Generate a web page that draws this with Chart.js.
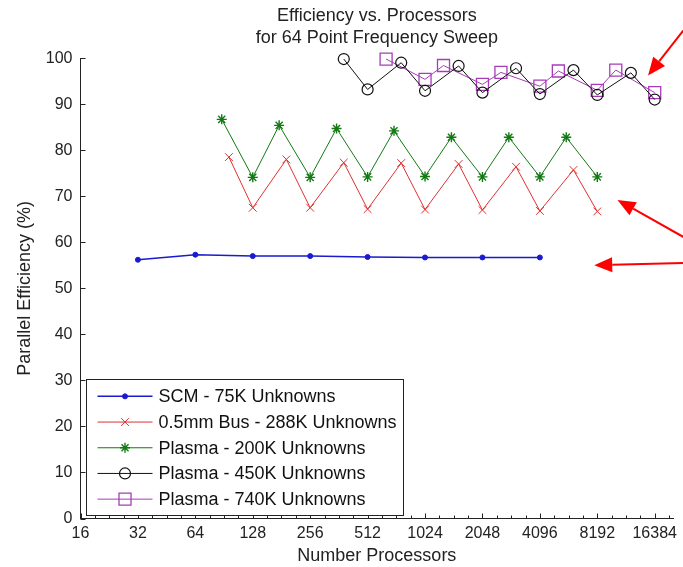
<!DOCTYPE html>
<html>
<head>
<meta charset="utf-8">
<script src="https://cdn.jsdelivr.net/npm/chart.js@4.4.0/dist/chart.umd.min.js"></script>
<style>
body { margin: 0; background: #fff; }
#wrap { width: 683px; height: 567px; }
</style>
</head>
<body>
<div id="wrap"><canvas id="myChart" width="683" height="567"></canvas></div>
<script>
// Processor counts (x) and parallel efficiency in % (y)
const scmX = [32, 64, 128, 256, 512, 1024, 2048, 4096];
const scmY = [56.2, 57.3, 57.0, 57.0, 56.8, 56.7, 56.7, 56.7];

const busX = [96, 128, 192, 256, 384, 512, 768, 1024, 1536, 2048, 3072, 4096, 6144, 8192];
const busY = [78.5, 67.5, 78.0, 67.5, 77.3, 67.2, 77.2, 67.1, 77.0, 67.0, 76.4, 66.8, 75.7, 66.7];

const plasma200X = [88, 128, 176, 256, 352, 512, 704, 1024, 1408, 2048, 2816, 4096, 5632, 8192];
const plasma200Y = [86.7, 74.1, 85.4, 74.1, 84.7, 74.2, 84.2, 74.3, 82.8, 74.2, 82.8, 74.2, 82.8, 74.2];

const plasma450X = [384, 512, 768, 1024, 1536, 2048, 3072, 4096, 6144, 8192, 12288, 16384];
const plasma450Y = [99.8, 93.2, 99.0, 92.9, 98.3, 92.5, 97.8, 92.2, 97.4, 92.0, 96.8, 91.0];

const plasma740X = [640, 1024, 1280, 2048, 2560, 4096, 5120, 8192, 10240, 16384];
const plasma740Y = [99.8, 95.4, 98.4, 94.3, 96.9, 93.9, 97.2, 93.0, 97.4, 92.5];

// axis tick labels
const xTicks = [16, 32, 64, 128, 256, 512, 1024, 2048, 4096, 8192, 16384];
const yTicks = [0, 10, 20, 30, 40, 50, 60, 70, 80, 90, 100];

// red annotation arrows, tail -> tip, in data units
const arrowFrom = [[24450, 107.3], [24450, 60.6], [24450, 55.5]];
const arrowTo = [[15120, 96.2], [10450, 69.2], [7893, 55.0]];

const FONT = 'Arial, "Liberation Sans", Helvetica, sans-serif';
Chart.defaults.font.family = FONT;

function toPts(xs, ys) {
    return xs.map((x, i) => ({ x: x, y: ys[i] }));
}

// ticks drawn on the inside of the axes, like matlab does
const innerTicks = {
    id: 'innerTicks',
    afterDraw(chart) {
        const { ctx, chartArea, scales: { x, y } } = chart;
        ctx.save();
        ctx.strokeStyle = '#222';
        ctx.lineWidth = 1;
        ctx.beginPath();
        yTicks.forEach(v => {
            const py = Math.round(y.getPixelForValue(v)) + 0.5;
            ctx.moveTo(chartArea.left, py);
            ctx.lineTo(chartArea.left + 5, py);
        });
        xTicks.forEach(v => {
            const px = Math.round(x.getPixelForValue(v)) + 0.5;
            ctx.moveTo(px, chartArea.bottom);
            ctx.lineTo(px, chartArea.bottom - 5);
            // minor ticks at quarter octaves
            [1.189, 1.414, 1.682].forEach(f => {
                const mx = Math.round(x.getPixelForValue(v * f)) + 0.5;
                if (mx < chartArea.right) {
                    ctx.moveTo(mx, chartArea.bottom);
                    ctx.lineTo(mx, chartArea.bottom - 3);
                }
            });
        });
        ctx.stroke();
        ctx.restore();
    }
};

// legend box sitting inside the plot, bottom left
const boxLegend = {
    id: 'boxLegend',
    afterDraw(chart) {
        const { ctx, chartArea } = chart;
        const sets = chart.data.datasets;
        ctx.save();
        ctx.font = '18px ' + FONT;
        const textW = Math.max(...sets.map(d => ctx.measureText(d.label).width));
        const rowH = 25.7;
        const w = Math.round(72 + textW + 7);
        const h = Math.round(sets.length * rowH + 7);
        const left = Math.round(chartArea.left + 5) + 0.5;
        const top = Math.round(chartArea.bottom - 4 - h) + 0.5;
        ctx.fillStyle = '#fff';
        ctx.fillRect(left, top, w, h);
        ctx.strokeStyle = '#222';
        ctx.lineWidth = 1;
        ctx.strokeRect(left, top, w, h);
        sets.forEach((d, i) => {
            const cy = top + 4 + rowH * (i + 0.5);
            ctx.strokeStyle = d.borderColor;
            ctx.lineWidth = d.borderWidth;
            ctx.beginPath();
            ctx.moveTo(left + 11, cy);
            ctx.lineTo(left + 66, cy);
            ctx.stroke();
            ctx.fillStyle = d.pointBackgroundColor;
            ctx.strokeStyle = d.pointBorderColor;
            ctx.lineWidth = d.pointBorderWidth;
            Chart.helpers.drawPoint(ctx, {
                pointStyle: d.pointStyle,
                radius: d.pointRadius,
                borderWidth: d.pointBorderWidth,
                rotation: 0
            }, left + 38.5, cy);
            ctx.fillStyle = '#111';
            ctx.textBaseline = 'middle';
            ctx.textAlign = 'left';
            ctx.fillText(d.label, left + 72, cy + 1);
        });
        ctx.restore();
    }
};

const arrowsPlugin = {
    id: 'arrowsPlugin',
    afterDraw(chart) {
        const { ctx, scales: { x, y } } = chart;
        ctx.save();
        ctx.strokeStyle = '#ff0000';
        ctx.fillStyle = '#ff0000';
        ctx.lineWidth = 2;
        arrowFrom.forEach((from, i) => {
            const x0 = x.getPixelForValue(from[0]), y0 = y.getPixelForValue(from[1]);
            const x1 = x.getPixelForValue(arrowTo[i][0]), y1 = y.getPixelForValue(arrowTo[i][1]);
            const a = Math.atan2(y1 - y0, x1 - x0);
            const len = 18, half = 7.5;
            const bx = x1 - Math.cos(a) * len, by = y1 - Math.sin(a) * len;
            ctx.beginPath();
            ctx.moveTo(x0, y0);
            ctx.lineTo(bx, by);
            ctx.stroke();
            ctx.beginPath();
            ctx.moveTo(x1, y1);
            ctx.lineTo(bx - Math.sin(a) * half, by + Math.cos(a) * half);
            ctx.lineTo(bx + Math.sin(a) * half, by - Math.cos(a) * half);
            ctx.closePath();
            ctx.fill();
        });
        ctx.restore();
    }
};

const ctx = document.getElementById('myChart').getContext('2d');

const effChart = new Chart(ctx, {
    type: 'line',
    data: {
        datasets: [
            {
                label: 'SCM - 75K Unknowns',
                data: toPts(scmX, scmY),
                borderColor: '#1a1ad0',
                borderWidth: 1.5,
                pointStyle: 'circle',
                pointRadius: 2.5,
                pointBackgroundColor: '#1a1ad0',
                pointBorderColor: '#1a1ad0',
                pointBorderWidth: 1
            },
            {
                label: '0.5mm Bus - 288K Unknowns',
                data: toPts(busX, busY),
                borderColor: '#e03030',
                borderWidth: 1,
                pointStyle: 'crossRot',
                pointRadius: 5.5,
                pointBackgroundColor: 'transparent',
                pointBorderColor: '#e03030',
                pointBorderWidth: 1
            },
            {
                label: 'Plasma - 200K Unknowns',
                data: toPts(plasma200X, plasma200Y),
                borderColor: '#137a13',
                borderWidth: 1,
                pointStyle: 'star',
                pointRadius: 5,
                pointBackgroundColor: 'transparent',
                pointBorderColor: '#137a13',
                pointBorderWidth: 1.4
            },
            {
                label: 'Plasma - 450K Unknowns',
                data: toPts(plasma450X, plasma450Y),
                borderColor: '#111111',
                borderWidth: 1,
                pointStyle: 'circle',
                pointRadius: 5.5,
                pointBackgroundColor: 'transparent',
                pointBorderColor: '#111111',
                pointBorderWidth: 1.2
            },
            {
                label: 'Plasma - 740K Unknowns',
                data: toPts(plasma740X, plasma740Y),
                borderColor: '#a83cb8',
                borderWidth: 1,
                pointStyle: 'rect',
                pointRadius: 8.5,
                pointBackgroundColor: 'transparent',
                pointBorderColor: '#a83cb8',
                pointBorderWidth: 1.3
            }
        ]
    },
    options: {
        responsive: false,
        animation: false,
        devicePixelRatio: 1,
        clip: false,
        layout: { padding: { left: 0, right: 7, top: 0, bottom: 0 } },
        elements: { line: { tension: 0, fill: false } },
        plugins: {
            legend: { display: false },
            tooltip: { enabled: false },
            title: {
                display: true,
                fullSize: false,
                text: ['Efficiency vs. Processors', 'for 64 Point Frequency Sweep'],
                color: '#222',
                font: { size: 18, weight: 'normal', lineHeight: 1.17 },
                padding: { top: 6, bottom: 10 }
            }
        },
        scales: {
            x: {
                type: 'logarithmic',
                min: 16,
                max: 20480,
                afterBuildTicks: scale => {
                    scale.ticks = xTicks.map(v => ({ value: v }));
                },
                afterFit: scale => { scale.height = 48.5; },
                grid: { display: true, drawOnChartArea: false, drawTicks: false },
                border: { display: true, color: '#222', width: 1 },
                ticks: {
                    autoSkip: false,
                    maxRotation: 0,
                    minRotation: 0,
                    padding: 5,
                    color: '#222',
                    font: { size: 16 },
                    callback: v => String(v)
                },
                title: {
                    display: true,
                    text: 'Number Processors',
                    color: '#222',
                    font: { size: 18 },
                    padding: { top: 0, bottom: 0 }
                }
            },
            y: {
                min: 0,
                max: 100,
                afterFit: scale => { scale.width = 80.5; },
                grid: { display: true, drawOnChartArea: false, drawTicks: false },
                border: { display: true, color: '#222', width: 1 },
                ticks: {
                    stepSize: 10,
                    padding: 8,
                    color: '#222',
                    font: { size: 16 }
                },
                title: {
                    display: true,
                    text: 'Parallel Efficiency (%)',
                    color: '#222',
                    font: { size: 18 },
                    padding: { top: 14, bottom: 0 }
                }
            }
        }
    },
    plugins: [innerTicks, boxLegend, arrowsPlugin]
});
</script>
</body>
</html>
